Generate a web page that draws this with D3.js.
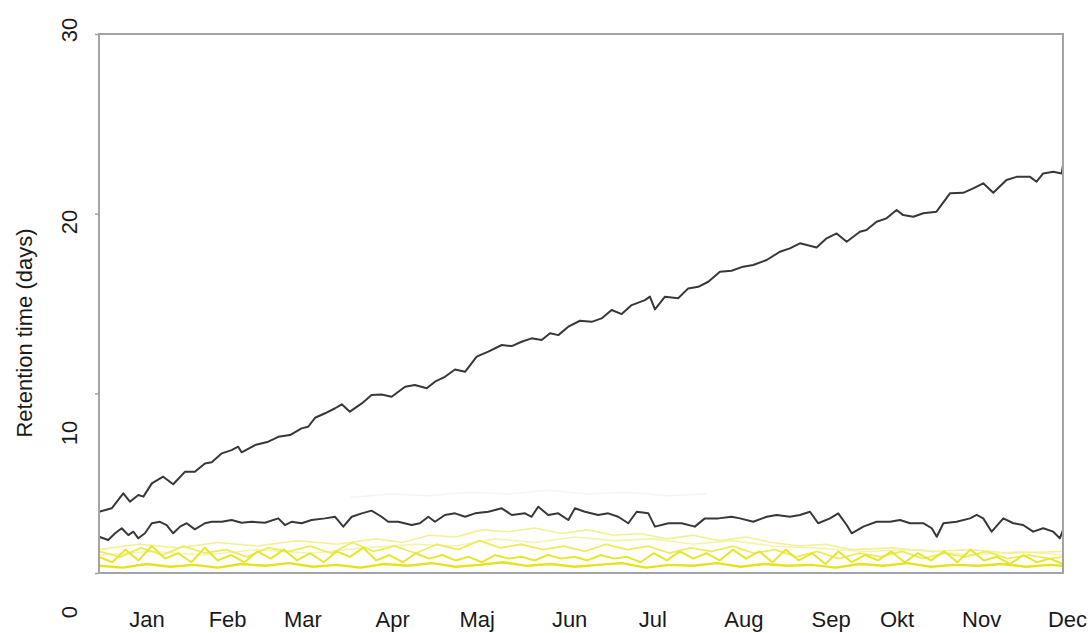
<!DOCTYPE html>
<html>
<head>
<meta charset="utf-8">
<script src="https://cdnjs.cloudflare.com/ajax/libs/d3/7.8.5/d3.min.js"></script>
<style>
    body { margin: 0; background: #fff; }
    text { font-family: "Liberation Sans", Arial, sans-serif; fill: #1a1a1a; }
</style>
</head>
<body>
<div id="my_dataviz"></div>
<script>
// month labels and where they are printed (day of year)
var monthNames = ["Jan", "Feb", "Mar", "Apr", "Maj", "Jun", "Jul", "Aug", "Sep", "Okt", "Nov", "Dec"];
var monthDays = [18, 48.5, 77, 111, 143, 178, 209.5, 244, 277, 302, 334, 366.5];

var yTicks = [0, 10, 20, 30];

// series: [day, retention time in days]
var upperBlack = [[0,3.41],[4.8,3.6],[9.2,4.43],[11.7,3.97],[14.9,4.34],[16.8,4.25],[20,4.99],[24.3,5.36],[28.1,4.94],
    [32.6,5.64],[36.3,5.64],[40.1,6.1],[42.7,6.16],[46.5,6.66],[50.2,6.84],[52.7,7.03],[54,6.72],[59.1,7.12],[64.1,7.31],
    [67.9,7.58],[72.3,7.68],[76.7,8.05],[79.2,8.14],[81.8,8.64],[85.6,8.89],[89.4,9.17],[91.9,9.39],[95,8.98],[99.5,9.44],
    [103.2,9.91],[107,9.94],[110.8,9.81],[115.9,10.37],[119.6,10.46],[124.1,10.28],[127.2,10.65],[131,10.92],[134.8,11.33],
    [138.6,11.2],[143,12.04],[147.4,12.32],[152.5,12.69],[156.3,12.63],[160,12.87],[163.8,13.06],[167.6,12.97],[170.8,13.34],
    [173.9,13.24],[177.7,13.71],[182.1,14.04],[186.5,13.98],[190.3,14.17],[194.1,14.64],[197.9,14.41],[201.7,14.91],
    [206.7,15.19],[208.6,15.38],[210.5,14.67],[214.3,15.38],[219.3,15.29],[223.1,15.84],[226.9,15.93],[230.7,16.21],
    [235.1,16.77],[239.5,16.82],[243.9,17.05],[247.7,17.14],[252.8,17.42],[257.8,17.88],[261.6,18.07],[265.4,18.35],
    [271.7,18.12],[275.5,18.63],[279.3,18.9],[283.1,18.44],[288.1,18.99],[290.6,19.09],[294.4,19.55],[298.2,19.74],
    [302,20.2],[304.5,19.92],[308.3,19.83],[312.1,20.02],[317.1,20.11],[322.2,21.13],[327.2,21.16],[331,21.41],
    [334.8,21.69],[338.6,21.16],[343.6,21.87],[347.4,22.05],[352.5,22.05],[355,21.78],[357.5,22.24],[361.3,22.33],
    [364.5,22.24],[365,22.7]];

var lowerBlack = [[0,2.02],[3.5,1.84],[6.1,2.21],[8.6,2.49],[11.1,2.11],[13,2.3],[14.9,1.93],[17.4,2.21],[20,2.77],
    [23.1,2.85],[25.6,2.67],[28.1,2.21],[30.7,2.58],[33.2,2.77],[36.3,2.43],[40.1,2.77],[42.7,2.85],[46.5,2.85],[50.2,2.95],
    [54,2.8],[57.8,2.85],[62.8,2.8],[67.9,3.04],[70.4,2.67],[72.9,2.85],[76.7,2.77],[80.5,2.95],[85.6,3.04],[89.4,3.13],
    [92.5,2.58],[95.7,3.13],[99.5,3.32],[103.2,3.47],[107,3.13],[109.5,2.85],[113.3,2.85],[118.4,2.67],[121.5,2.77],
    [124.7,3.13],[127.2,2.85],[131,3.23],[134.8,3.32],[138.6,3.13],[142.4,3.32],[147.4,3.41],[152.5,3.6],[156.3,3.23],
    [161.3,3.32],[163.8,3.13],[166.3,3.69],[170.1,3.23],[173.9,3.32],[177.7,2.95],[180.2,3.6],[184,3.41],[189,3.23],
    [192.8,3.32],[196.6,3.13],[200.4,2.77],[203.6,3.41],[208,3.32],[210.5,2.58],[215.6,2.77],[220.6,2.77],[225.6,2.58],
    [229.4,3.04],[234.5,3.04],[239.5,3.13],[242.7,3.04],[247.7,2.85],[252.8,3.13],[256.6,3.23],[261.6,3.13],[265.4,3.23],
    [269.2,3.41],[272.3,2.77],[276.8,3.04],[279.9,3.32],[283.1,2.67],[285,2.21],[289.4,2.58],[294.4,2.85],[299.5,2.85],
    [303.3,2.95],[307.1,2.77],[312.1,2.77],[315.3,2.49],[317.2,2.02],[319.7,2.77],[324.7,2.85],[329.8,3.04],[332.3,3.23],
    [334.8,3.04],[338,2.3],[342.4,3.04],[346.2,2.77],[349.9,2.67],[353.7,2.3],[357.5,2.49],[361.3,2.3],[363.8,1.93],[365,2.39]];

var faintGrey = [[95,4.2],[110,4.4],[125,4.3],[140,4.5],[155,4.4],[170,4.6],[185,4.4],[200,4.5],[215,4.3],[230,4.4]];

var yellowLow = [[0,0.4],[9,0.3],[18,0.5],[27,0.35],[36,0.45],[45,0.3],[54,0.5],[63,0.4],[72,0.55],[81,0.35],[90,0.45],
    [99,0.3],[108,0.5],[117,0.4],[126,0.55],[135,0.35],[144,0.45],[153,0.6],[162,0.4],[171,0.5],[180,0.35],[189,0.45],
    [198,0.55],[207,0.3],[216,0.45],[225,0.4],[234,0.55],[243,0.35],[252,0.5],[261,0.4],[270,0.45],[279,0.3],[288,0.5],
    [297,0.4],[306,0.55],[315,0.35],[324,0.45],[333,0.4],[342,0.5],[351,0.35],[360,0.45],[365,0.4]];

var yellowWave = [[0,0.9],[5,0.6],[10,1.3],[15,0.7],[20,1.5],[25,0.8],[30,1.1],[35,0.6],[40,1.4],[45,0.7],[50,1.0],
    [55,0.6],[60,1.2],[65,0.8],[70,1.3],[75,0.7],[80,1.1],[85,0.6],[90,1.2],[95,0.9],[100,1.4],[105,0.7],[110,1.0],
    [115,0.6],[120,1.1],[125,0.8],[130,1.0],[135,0.7],[140,0.9],[145,0.6],[150,1.0],[155,0.8],[160,0.9],[165,0.7],
    [170,1.0],[175,0.8],[180,0.9],[185,0.7],[190,1.0],[195,0.8],[200,0.9],[205,0.6],[210,1.1],[215,0.7],[220,1.2],
    [225,0.8],[230,1.1],[235,0.7],[240,1.3],[245,0.8],[250,1.2],[255,0.6],[260,1.3],[265,0.7],[270,1.1],[275,0.5],
    [280,1.2],[285,0.6],[290,1.0],[295,0.7],[300,1.2],[305,0.6],[310,1.1],[315,0.7],[320,1.2],[325,0.6],[330,1.3],
    [335,0.7],[340,0.9],[345,0.5],[350,1.0],[355,0.6],[360,0.8],[365,0.5]];

var yellowMid = [[0,1.2],[8,0.9],[16,1.4],[24,1.0],[32,1.5],[40,1.1],[48,1.3],[56,0.9],[64,1.4],[72,1.2],[80,1.5],
    [88,1.1],[96,1.7],[104,1.2],[112,1.5],[120,1.1],[128,1.6],[136,1.3],[144,1.8],[152,1.4],[160,1.6],[168,1.3],
    [176,1.5],[184,1.2],[192,1.6],[200,1.3],[208,1.5],[216,1.1],[224,1.4],[232,1.2],[240,1.5],[248,1.1],[256,1.3],
    [264,0.9],[272,1.2],[280,0.8],[288,1.1],[296,0.9],[304,1.2],[312,0.8],[320,1.1],[328,0.9],[336,1.2],[344,0.8],
    [352,1.0],[360,0.8],[365,0.9]];

var yellowPaleA = [[0,1.3],[15,1.6],[30,1.4],[45,1.7],[60,1.5],[75,1.8],[90,1.6],[105,1.9],[115,1.7],[125,2.1],
    [135,2.0],[145,2.4],[155,2.3],[165,2.5],[175,2.2],[185,2.4],[195,2.1],[205,2.2],[215,1.9],[225,2.1],[235,1.8],
    [245,2.0],[255,1.7],[265,1.5],[275,1.6],[285,1.3],[300,1.4],[315,1.2],[330,1.3],[345,1.1],[365,1.2]];

var yellowPaleB = [[0,1.0],[20,1.2],[40,1.0],[60,1.3],[80,1.1],[100,1.4],[120,1.6],[135,1.5],[150,1.9],[165,1.7],
    [180,2.0],[195,1.8],[210,1.9],[225,1.6],[240,1.8],[255,1.5],[270,1.4],[290,1.2],[310,1.3],[330,1.0],[350,1.2],[365,1.0]];

var margin = {top: 34, right: 28, bottom: 60, left: 99},
    width = 1091 - margin.left - margin.right,
    height = 633 - margin.top - margin.bottom;

var svg = d3.select("#my_dataviz")
    .append("svg")
    .attr("width", 1091)
    .attr("height", 633)
    .append("g")
    .attr("transform", "translate(" + margin.left + "," + margin.top + ")");

var x = d3.scaleLinear().domain([0, 365]).range([0, width]);
var y = d3.scaleLinear().domain([0, 30]).range([height, 0]);

// printed tick labels sit a bit off their ticks in the original
var yLabel = d3.scaleLinear().domain([0, 10, 20, 30]).range([height + 39, height - 140, height - 351, -4]);

var line = d3.line()
    .x(function (d) { return x(d[0]); })
    .y(function (d) { return y(d[1]); });

// yellow series first, black on top
var series = [
    {data: yellowPaleB, color: "#f4f4b0", w: 1.6},
    {data: yellowPaleA, color: "#f1f198", w: 1.6},
    {data: faintGrey, color: "#f4f4f4", w: 1.5},
    {data: yellowMid, color: "#ecec5c", w: 1.8},
    {data: yellowWave, color: "#e6e62c", w: 2},
    {data: yellowLow, color: "#e3e320", w: 2.4},
    {data: upperBlack, color: "#383838", w: 2},
    {data: lowerBlack, color: "#383838", w: 2}
];

svg.selectAll(".series")
    .data(series)
    .enter()
    .append("path")
    .attr("class", "series")
    .attr("d", function (d) { return line(d.data); })
    .attr("fill", "none")
    .attr("stroke", function (d) { return d.color; })
    .attr("stroke-width", function (d) { return d.w; })
    .attr("stroke-linejoin", "round");

// frame
svg.append("rect")
    .attr("x", 0)
    .attr("y", 0)
    .attr("width", width)
    .attr("height", height)
    .attr("fill", "none")
    .attr("stroke", "#a3a3a8")
    .attr("stroke-width", 2);

// left ticks
svg.append("g")
    .call(d3.axisLeft(y).tickValues(yTicks).tickSize(4).tickFormat(""))
    .call(function (g) { g.select(".domain").remove(); })
    .selectAll("line").attr("stroke", "#a3a3a3").attr("stroke-width", 1.5);

// y tick labels, rotated
svg.selectAll(".ylab")
    .data(yTicks)
    .enter()
    .append("text")
    .attr("class", "ylab")
    .attr("transform", function (d) { return "translate(-30," + yLabel(d) + ") rotate(-90)"; })
    .attr("text-anchor", "middle")
    .attr("dy", "0.35em")
    .style("font-size", "22px")
    .text(function (d) { return d; });

// month labels
svg.append("g")
    .attr("transform", "translate(0," + height + ")")
    .call(d3.axisBottom(x).tickValues(monthDays).tickSize(0).tickPadding(38)
        .tickFormat(function (d, i) { return monthNames[i]; }))
    .call(function (g) { g.select(".domain").remove(); })
    .selectAll("text")
    .style("font-size", "22px")
    .style("font-family", "Liberation Sans, Arial, sans-serif")
    .attr("fill", "#1a1a1a");

// y axis title
svg.append("text")
    .attr("transform", "translate(-75," + (height - 240) + ") rotate(-90)")
    .attr("text-anchor", "middle")
    .attr("dy", "0.35em")
    .style("font-size", "22px")
    .text("Retention time (days)");
</script>
</body>
</html>
